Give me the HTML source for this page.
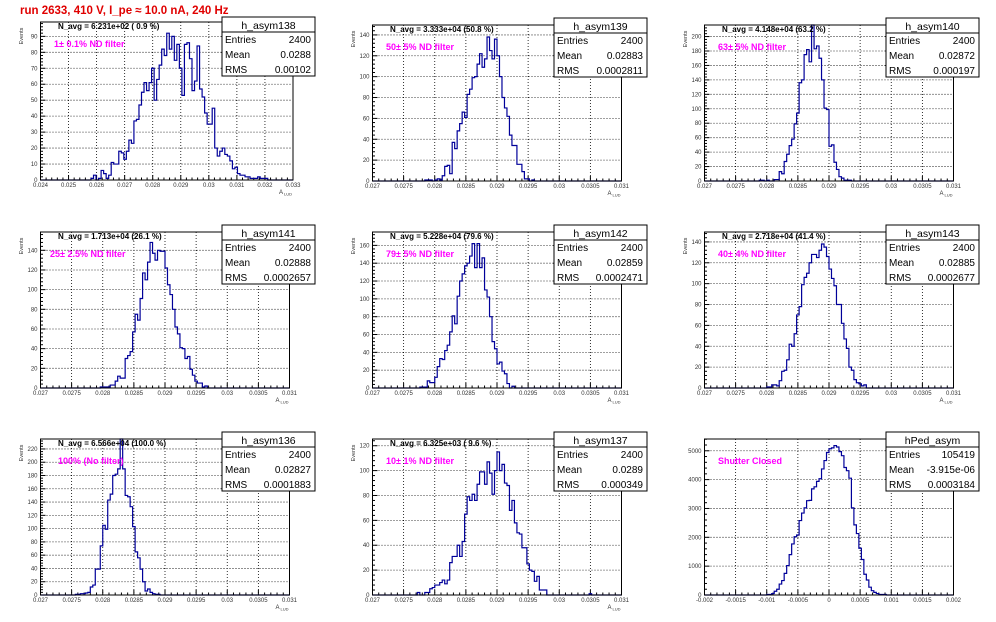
<!DOCTYPE html>
<html><head><meta charset="utf-8">
<style>
html,body{margin:0;padding:0;background:#fff;}
svg{display:block;font-family:"Liberation Sans",sans-serif;}
</style></head>
<body>
<svg id="canvas" width="996" height="622" viewBox="0 0 996 622" xmlns="http://www.w3.org/2000/svg">
<rect x="0" y="0" width="996" height="622" fill="#fff"/>
<text x="20" y="14" font-size="11.5" font-weight="bold" fill="#e00000">run 2633,   410 V, I_pe ≈ 10.0 nA, 240 Hz</text>
</svg>
<script>
// ---- data ----
const names = ["h_asym138","h_asym139","h_asym140","h_asym141","h_asym142","h_asym143","h_asym136","h_asym137","hPed_asym"];
const navgLabels = ["N_avg = 6.231e+02 ( 0.9 %)","N_avg = 3.333e+04 (50.8 %)","N_avg = 4.148e+04 (63.2 %)","N_avg = 1.713e+04 (26.1 %)","N_avg = 5.228e+04 (79.6 %)","N_avg = 2.718e+04 (41.4 %)","N_avg = 6.566e+04 (100.0 %)","N_avg = 6.325e+03 ( 9.6 %)",""];
const filterLabels = ["1\u00b1 0.1% ND filter","50\u00b1 5% ND filter","63\u00b1 5% ND filter","25\u00b1 2.5% ND filter","79\u00b1 5% ND filter","40\u00b1 4% ND filter","100% (No filter)","10\u00b1 1% ND filter","Shutter Closed"];
const entries = ["2400","2400","2400","2400","2400","2400","2400","2400","105419"];
const means = ["0.0288","0.02883","0.02872","0.02888","0.02859","0.02885","0.02827","0.0289","-3.915e-06"];
const rmsValues = ["0.00102","0.0002811","0.000197","0.0002657","0.0002471","0.0002677","0.0001883","0.000349","0.0003184"];
const xMins = [0.024,0.027,0.027,0.027,0.027,0.027,0.027,0.027,-0.002];
const xMaxs = [0.033,0.031,0.031,0.031,0.031,0.031,0.031,0.031,0.002];
const yMaxs = [99,149.5,216,158.6,175,149.5,235,125.4,5408];
const yStep = [10,20,20,20,20,20,20,20,1000];
const xTickLabels1 = ["0.024","0.025","0.026","0.027","0.028","0.029","0.03","0.031","0.032","0.033"];
const xTickLabelsStd = ["0.027","0.0275","0.028","0.0285","0.029","0.0295","0.03","0.0305","0.031"];
const xTickLabelsPed = ["-0.002","-0.0015","-0.001","-0.0005","0","0.0005","0.001","0.0015","0.002"];
const nBins = 100;
const binStarts = [20,21,22,24,19,25,14,18,25];
const counts138 = [1,3,0,1,6,4,1,3,11,10,10,18,17,13,18,25,23,37,38,47,55,61,56,61,70,50,63,72,82,78,92,82,90,75,85,70,53,85,86,76,56,62,84,57,52,42,35,35,45,20,15,18,20,16,15,12,7,8,4,3,3,2,2,1,1,1,2,1,1,1];
const counts139 = [1,1,1,0,1,2,1,5,14,15,7,37,31,48,55,66,61,83,88,99,100,112,122,109,117,138,125,117,136,120,100,80,70,62,44,34,34,16,16,9,2,2,0,1];
const counts140 = [1,1,0,1,0,0,2,2,13,10,27,37,49,58,79,94,136,140,175,182,165,220,183,187,170,140,101,99,48,50,26,16,6,4,1,1,1];
const counts141 = [1,1,1,1,3,3,7,12,10,10,30,33,37,57,75,69,91,117,110,128,148,137,130,140,139,139,122,105,95,80,62,55,41,40,30,32,19,13,7,5,5,1,2];
const counts142 = [1,1,1,8,6,6,12,24,33,32,42,48,63,81,72,103,120,128,137,140,148,162,135,162,135,146,110,102,80,52,44,27,29,19,16,5,0,2];
const counts143 = [1,1,3,3,2,7,16,17,27,42,40,52,70,78,99,106,110,120,128,128,125,132,138,135,126,114,105,98,80,80,62,47,38,20,17,8,5,4,2,3];
const counts136 = [1,1,2,2,3,4,12,15,39,39,74,105,99,143,152,180,182,190,235,190,150,148,133,103,65,56,39,20,6,9,4,2,1,1];
const counts137 = [2,0,0,2,2,5,6,8,8,10,12,9,12,26,31,31,40,31,43,65,79,76,81,76,89,99,99,89,107,98,81,100,115,100,105,90,88,68,76,58,50,49,38,38,25,20,19,11,15,4,4,4,0,0,0,0,0,0,0,0,0,0,0,0,0,0,0,0,0,1];
const countsPed = [20,20,50,130,200,380,500,750,1020,1400,1770,2020,2080,2580,2840,3020,3270,3280,3680,3750,3940,4030,4370,4660,4940,5070,5100,5180,5130,4970,4830,4420,4310,4050,3020,2430,2130,1620,1230,720,520,270,150,90,50,20,20,20];

const allCounts = [counts138,counts139,counts140,counts141,counts142,counts143,counts136,counts137,countsPed];
const allTickLabels = [xTickLabels1,xTickLabelsStd,xTickLabelsStd,xTickLabelsStd,xTickLabelsStd,xTickLabelsStd,xTickLabelsStd,xTickLabelsStd,xTickLabelsPed];

const NS = "http://www.w3.org/2000/svg";
const svg = document.getElementById("canvas");
function mk(tag, attrs, parent){
  const e = document.createElementNS(NS, tag);
  for (const k in attrs) e.setAttribute(k, attrs[k]);
  (parent||svg).appendChild(e);
  return e;
}

for (let p = 0; p < 9; p++) {
  const col = p % 3, row = Math.floor(p / 3);
  const ox = col * 332, oy = row * 207;
  const g = mk("g", {transform: "translate(" + ox + "," + oy + ")"});
  
  
  const L = 40.5, R = (p === 0 ? 293 : 289.5), T = (p === 0 ? 22 : 25), B = (p === 0 ? 180 : 181);
  const xmin = xMins[p], xmax = xMaxs[p], ymax = yMaxs[p];
  const xs = v => L + (v - xmin) / (xmax - xmin) * (R - L);
  const ys = v => B - Math.min(v, ymax) / ymax * (B - T);

  // grid
  const labels = allTickLabels[p];
  const nx = labels.length;
  for (let i = 0; i < nx; i++) {
    const xv = xmin + i * (xmax - xmin) / (nx - 1);
    const x = xs(xv);
    if (i > 0 && i < nx - 1) {
      const gl = mk("line", {x1:x, y1:T, x2:x, y2:B, stroke:"#000", "stroke-width":0.8, "stroke-dasharray":"1,2"}, g);
      
      
    }
    const tk = mk("line", {x1:x, y1:B, x2:x, y2:B-5}, g);
    tk.setAttribute('stroke', '#000');
    
    
    if (i < nx - 1) {
      for (let m = 1; m < 5; m++) {
        const xm = xs(xv + m * (xmax - xmin) / (nx - 1) / 5);
        const mt = mk("line", {x1:xm, y1:B, x2:xm, y2:B-2.5, stroke:"#000"}, g);
        
        
      }
    }
    const tl = mk("text", {x:x, y:B+7, "font-size":6, "text-anchor":"middle", fill:"#333"}, g);
    tl.textContent = labels[i];
    
    
  }
  const st = yStep[p];
  for (let v = 0; v <= ymax; v += st) {
    const y = ys(v);
    if (v > 0) {
      const gl = mk("line", {x1:L, y1:y, x2:R, y2:y, stroke:"#000", "stroke-width":0.8, "stroke-dasharray":"1,2"}, g);
      
      
    }
    const tk = mk("line", {x1:L, y1:y, x2:L+5, y2:y, stroke:"#000"}, g);
    
    
    for (let m = 1; m < 5; m++) {
      const vm = v + m * st / 5;
      if (vm > ymax) break;
      const mt = mk("line", {x1:L, y1:ys(vm), x2:L+2.5, y2:ys(vm), stroke:"#000"}, g);
      
      
    }
    const tl = mk("text", {x:L-3, y:y+2, "font-size":6, "text-anchor":"end", fill:"#333"}, g);
    tl.textContent = String(v);
    
    
  }

  // histogram path
  const counts = allCounts[p];
  const bw = (xmax - xmin) / nBins;
  let d = "M" + L + "," + B;
  for (let b = 0; b < nBins; b++) {
    const idx = b - binStarts[p];
    const c = (idx >= 0 && idx < counts.length) ? counts[idx] : 0;
    const x0 = xs(xmin + b * bw), x1 = xs(xmin + (b + 1) * bw);
    const y = ys(c);
    d += " L" + x0.toFixed(2) + "," + y.toFixed(2) + " L" + x1.toFixed(2) + "," + y.toFixed(2);
  }
  d += " L" + R + "," + B;
  const hp = mk("path", {d:d, fill:"none", stroke:"#000099", "stroke-width":1.2}, g);
  
  

  // frame
  const fr = mk("rect", {x:L, y:T, width:R-L, height:B-T, fill:"none", stroke:"#000", "stroke-width":1}, g);
  
  

  // axis titles
  if (p < 8 || true) {
    if (p < 8) {
      const ev = mk("text", {x:0, y:0, "font-size":5.5, fill:"#333", transform:"translate(23," + (T + 14) + ") rotate(-90)", "text-anchor":"middle"}, g);
      ev.textContent = "Events";
      
      
      const xt = mk("text", {x:R-14, y:B+14, "font-size":6, fill:"#333"}, g);
      xt.textContent = "A";
      
      
      const xs2 = mk("text", {x:R-9, y:B+15.5, "font-size":4, fill:"#333"}, g);
      xs2.textContent = "LUD";
      
      
    }
  }

  // labels
  if (navgLabels[p]) {
    const nt = mk("text", {x:58, y:T+7, "font-size":8, "font-weight":"bold", fill:"#000"}, g);
    nt.textContent = navgLabels[p];
    
    
  }
  const ft = mk("text", {x:(p===3?50:(p===6?58:54)), y:T+25, "font-size":9, "font-weight":"bold", fill:"#ff00ff"}, g);
  ft.textContent = filterLabels[p];
  
  

  // stats box
  const sb = mk("g", {}, g);
  
  
  const sy = (p === 0 ? 17 : 18);
  mk("rect", {x:222, y:sy, width:93, height:59, fill:"#fff", stroke:"#000", "stroke-width":1}, sb);
  mk("line", {x1:222, y1:sy+15, x2:315, y2:sy+15, stroke:"#000", "stroke-width":1}, sb);
  const tt = mk("text", {x:268.5, y:sy+12, "font-size":10.5, "text-anchor":"middle", fill:"#000"}, sb);
  tt.textContent = names[p];
  
  
  const rowsL = ["Entries","Mean","RMS"], rowsV = [entries[p], means[p], rmsValues[p]];
  for (let r = 0; r < 3; r++) {
    const yy = sy + 26 + r * 15;
    const a = mk("text", {x:225, y:yy, "font-size":10, fill:"#000"}, sb);
    a.textContent = rowsL[r];
    
    
    const b = mk("text", {x:311, y:yy, "font-size":10, "text-anchor":"end", fill:"#000"}, sb);
    b.textContent = rowsV[r];
    
    
  }
}
</script>
</body></html>
